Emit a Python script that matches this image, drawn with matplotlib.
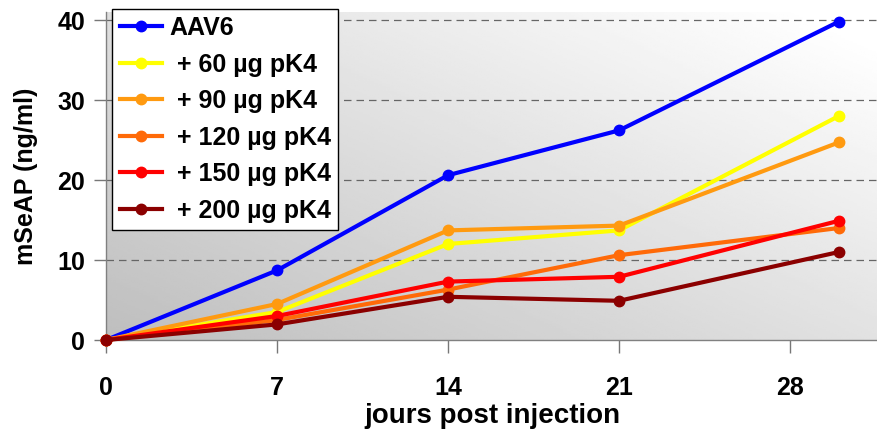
import numpy as np
import matplotlib.pyplot as plt

plt.rcParams['font.family'] = ['Liberation Sans', 'DejaVu Sans']
plt.rcParams['font.weight'] = 'bold'

days = [0, 7, 14, 21, 30]
labels = ['AAV6', ' + 60 µg pK4', ' + 90 µg pK4', ' + 120 µg pK4',
          ' + 150 µg pK4', ' + 200 µg pK4']
aav6 = [0, 8.7, 20.6, 26.2, 39.8]
pk4_60 = [0, 3.5, 12.0, 13.7, 28.0]
pk4_90 = [0, 4.5, 13.7, 14.3, 24.7]
pk4_120 = [0, 2.5, 6.3, 10.6, 14.0]
pk4_150 = [0, 3.0, 7.3, 7.9, 14.9]
pk4_200 = [0, 1.95, 5.4, 4.9, 11.0]
colors = ['#0000ff', '#ffff00', '#ff9a10', '#ff6a08', '#ff0000', '#8b0000']

series = [aav6, pk4_60, pk4_90, pk4_120, pk4_150, pk4_200]

fig = plt.figure(figsize=(8.78, 4.36), dpi=100)
ax = fig.add_axes([106 / 878, 96 / 436, 772 / 878, 328 / 436])

# diagonal grey gradient: light at top right, darker at bottom left
gx, gy = np.meshgrid(np.linspace(0, 1, 200), np.linspace(0, 1, 200))
grad = 0.745 + 0.255 * np.clip(0.55 * gx + 0.5 * gy, 0, 1)
ax.imshow(grad, cmap='gray', vmin=0, vmax=1, extent=[0, 1, 0, 1],
          transform=ax.transAxes, aspect='auto', origin='lower', zorder=0)

for yv in [10, 20, 30, 40]:
    ax.axhline(yv, color='#666666', lw=0.9, ls=(0, (6, 4)), zorder=1)

for vals, c, lab in zip(series, colors, labels):
    ax.plot(days, vals, color=c, lw=3, marker='o', ms=7.5, label=lab,
            zorder=3, clip_on=False)

ax.set_xlim(0, 31.6)
ax.set_ylim(0, 41)
ax.set_xticks([0, 7, 14, 21, 28])
ax.set_yticks([0, 10, 20, 30, 40])
ax.tick_params(axis='both', labelsize=18, color='#777777', length=9,
               width=1, pad=6)
ax.tick_params(axis='x', pad=17)
for lbl in ax.get_xticklabels() + ax.get_yticklabels():
    lbl.set_fontweight('bold')

for side in ['top', 'right']:
    ax.spines[side].set_visible(False)
for side in ['left', 'bottom']:
    ax.spines[side].set_color('#808080')
    ax.spines[side].set_linewidth(1)

ax.set_xlabel('jours post injection', fontsize=20, fontweight='bold', labelpad=2)
ax.set_ylabel('mSeAP (ng/ml)', fontsize=18, fontweight='bold', labelpad=14)

leg = ax.legend(loc='upper left', bbox_to_anchor=(0.008, 1.01), borderaxespad=0,
                fontsize=18, frameon=True, fancybox=False, framealpha=1,
                edgecolor='black', handlelength=1.7, handletextpad=0.3,
                labelspacing=0.5, borderpad=0.3)
leg.get_frame().set_linewidth(1)
for t in leg.get_texts():
    t.set_fontweight('bold')

fig.savefig('out.png', dpi=100)
